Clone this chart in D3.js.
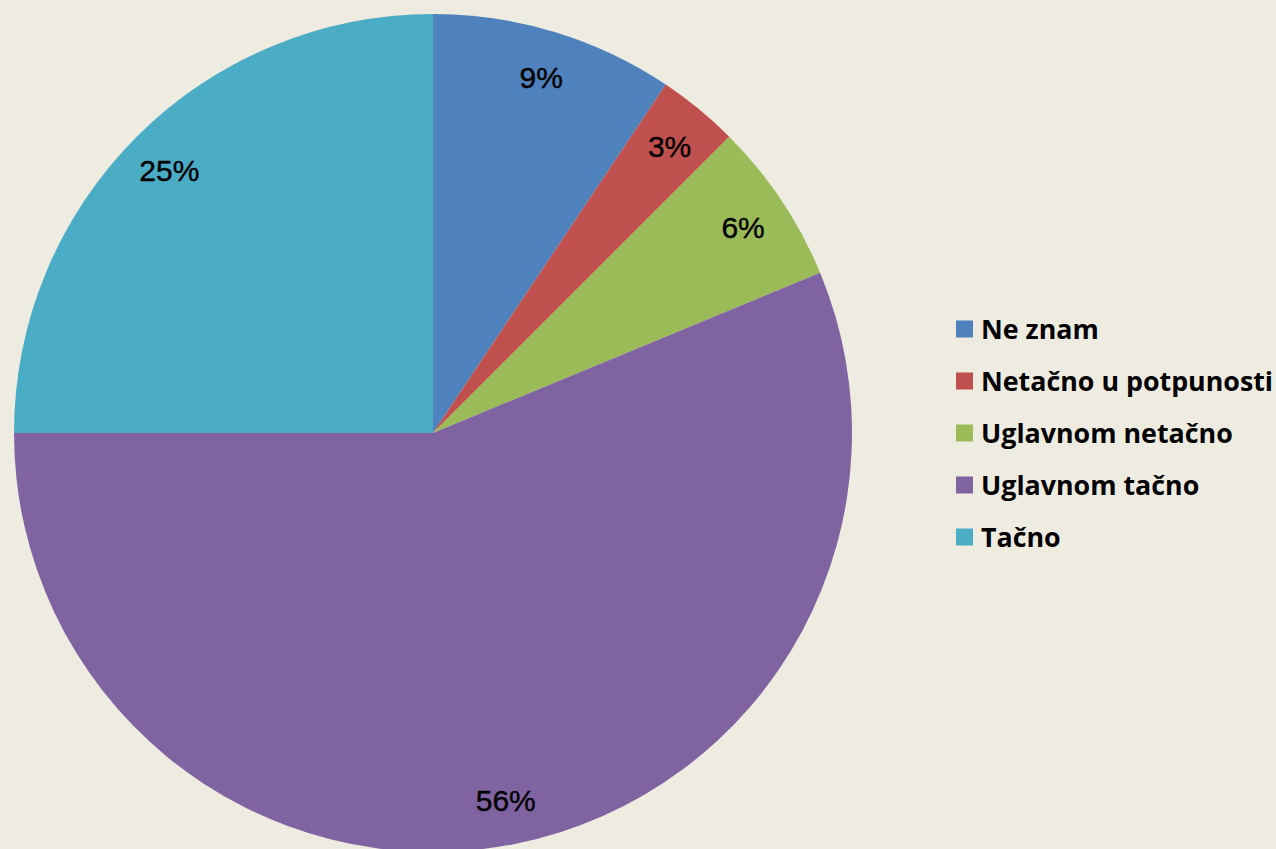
<!DOCTYPE html>
<html>
<head>
<meta charset="utf-8">
<script src="https://cdn.jsdelivr.net/npm/d3@7"></script>
<style>
  html, body { margin: 0; padding: 0; background: #eeebe0; }
</style>
</head>
<body>
<div id="chart"></div>
<script>
// Odgovori (broj ispitanika po kategoriji)
const categories = ["Ne znam", "Netačno u potpunosti", "Uglavnom netačno", "Uglavnom tačno", "Tačno"];
const counts = [3, 1, 2, 18, 8];
const colors = ["#4f81bd", "#c0504d", "#9bbb59", "#8064a2", "#4bacc6"];

const width = 1276;
const height = 849;
const cx = 433, cy = 433, radius = 419;

const svg = d3.select("#chart")
    .append("svg")
    .attr("width", width)
    .attr("height", height);

const total = d3.sum(counts);
const data = categories.map((c, i) => ({ name: c, value: counts[i], color: colors[i] }));

const pie = d3.pie()
    .value(d => d.value)
    .sort(null);

const arc = d3.arc()
    .innerRadius(0)
    .outerRadius(radius);

const labelArc = d3.arc()
    .innerRadius(radius * 0.89)
    .outerRadius(radius * 0.89);

const g = svg.append("g")
    .attr("transform", `translate(${cx},${cy})`);

const arcs = pie(data);

g.selectAll("path")
    .data(arcs)
    .enter()
    .append("path")
    .attr("d", arc)
    .attr("fill", d => d.data.color);

g.selectAll(".lbl")
    .data(arcs)
    .enter()
    .append("text")
    .attr("class", "lbl")
    .attr("transform", d => `translate(${labelArc.centroid(d)})`)
    .attr("text-anchor", "middle")
    .attr("dy", "0.4em")
    .style("font-family", "'Liberation Sans', Arial, sans-serif")
    .style("font-size", "30px")
    .style("fill", "#000")
    .style("stroke", "#000")
    .style("stroke-width", "0.4px")
    .text(d => Math.round(d.data.value / total * 100) + "%");

// legenda
const legend = svg.append("g")
    .attr("transform", "translate(956,329)");

const item = legend.selectAll("g")
    .data(data)
    .enter()
    .append("g")
    .attr("transform", (d, i) => `translate(0,${i * 52})`);

item.append("rect")
    .attr("x", 0)
    .attr("y", -8.5)
    .attr("width", 17)
    .attr("height", 17)
    .attr("fill", d => d.color);

item.append("text")
    .attr("x", 25)
    .attr("dy", "0.36em")
    .style("font-family", "'Open Sans', 'DejaVu Sans', sans-serif")
    .style("font-weight", "bold")
    .style("font-size", "26.8px")
    .style("fill", "#000")
    .text(d => d.name);
</script>
</body>
</html>
